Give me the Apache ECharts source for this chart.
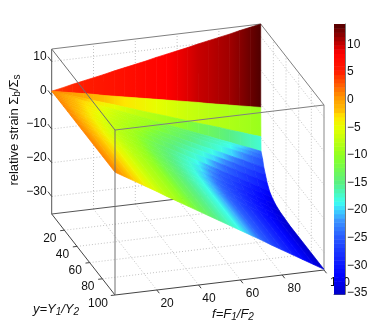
<!DOCTYPE html>
<html lang="en">
<head>
    <meta charset="UTF-8">
    <title>relative strain</title>
    <script type="text/javascript" src="https://cdn.jsdelivr.net/npm/echarts@6/dist/echarts.min.js"></script>
    <style>html,body{margin:0;padding:0;background:#fff;}</style>
</head>
<body>
    <div id="main" style="width:390px;height:332px;"></div>
    <script type="text/javascript">
        // surface: one row per y, one value per f
        var fValues = [0, 5, 10, 15, 20, 25, 30, 35, 40, 45, 50, 55, 60, 65, 70, 75, 80, 85, 90, 95, 100];
        var yValues = [0, 0.1, 0.3, 0.6, 1.5, 3, 5, 7.5, 10, 14, 18, 24, 30, 38, 46, 100];
        var zRows = [
            [1.2, 1.8, 2.5, 3.1, 3.7, 4.3, 5.0, 5.6, 6.2, 6.8, 7.5, 8.1, 8.7, 9.3, 10.0, 10.6, 11.2, 11.8, 12.5, 13.1, 13.7],
            [1.2, 0.6, 0, -0.6, -1.2, -1.9, -2.5, -3.1, -3.7, -4.3, -4.9, -5.5, -6.1, -6.7, -7.3, -8.0, -8.6, -9.2, -9.8, -10.4, -11.0],
            [1.2, 0.2, -0.9, -1.9, -3.0, -4.0, -5.0, -6.1, -7.1, -8.2, -9.2, -10.2, -11.3, -12.3, -13.4, -14.4, -15.4, -16.5, -17.5, -18.6, -19.6],
            [1.2, -0.1, -1.3, -2.6, -3.8, -5.1, -6.3, -7.6, -8.8, -10.1, -11.4, -12.6, -13.9, -15.1, -16.4, -17.6, -18.9, -20.1, -21.4, -22.6, -23.9],
            [1.2, -0.1, -1.4, -2.7, -4.0, -5.3, -6.5, -7.8, -9.1, -10.4, -11.7, -13.0, -14.3, -15.6, -16.9, -18.2, -19.4, -20.7, -22.0, -23.3, -24.6],
            [1.2, -0.1, -1.5, -2.8, -4.2, -5.5, -6.8, -8.2, -9.5, -10.9, -12.2, -13.5, -14.9, -16.2, -17.6, -18.9, -20.2, -21.6, -22.9, -24.3, -25.6],
            [1.2, -0.2, -1.7, -3.1, -4.6, -6.0, -7.4, -8.9, -10.3, -11.8, -13.2, -14.6, -16.1, -17.5, -19.0, -20.4, -21.8, -23.3, -24.7, -26.2, -27.6],
            [1.2, -0.3, -1.8, -3.4, -4.9, -6.4, -7.9, -9.4, -11.0, -12.5, -14.0, -15.5, -17.0, -18.6, -20.1, -21.6, -23.1, -24.6, -26.2, -27.7, -29.2],
            [1.2, -0.4, -2.0, -3.6, -5.2, -6.8, -8.4, -10.0, -11.6, -13.2, -14.8, -16.4, -18.0, -19.6, -21.2, -22.8, -24.4, -26.0, -27.6, -29.2, -30.8],
            [1.2, -0.5, -2.2, -3.9, -5.5, -7.2, -8.9, -10.6, -12.3, -14.0, -15.7, -17.3, -19.0, -20.7, -22.4, -24.1, -25.8, -27.4, -29.1, -30.8, -32.5],
            [1.2, -0.5, -2.3, -4.0, -5.7, -7.5, -9.2, -10.9, -12.6, -14.4, -16.1, -17.8, -19.6, -21.3, -23.0, -24.8, -26.5, -28.2, -29.9, -31.7, -33.4],
            [1.2, -0.6, -2.3, -4.1, -5.9, -7.7, -9.4, -11.2, -13.0, -14.7, -16.5, -18.3, -20.0, -21.8, -23.6, -25.4, -27.1, -28.9, -30.7, -32.4, -34.2],
            [1.2, -0.6, -2.4, -4.2, -6.0, -7.8, -9.5, -11.3, -13.1, -14.9, -16.7, -18.5, -20.3, -22.1, -23.9, -25.7, -27.4, -29.2, -31.0, -32.8, -34.6],
            [1.2, -0.6, -2.4, -4.2, -6.0, -7.8, -9.6, -11.4, -13.2, -15.0, -16.8, -18.6, -20.4, -22.2, -24.0, -25.8, -27.6, -29.4, -31.2, -33.0, -34.8],
            [1.2, -0.6, -2.4, -4.2, -6.0, -7.9, -9.7, -11.5, -13.3, -15.1, -16.9, -18.7, -20.5, -22.3, -24.1, -26.0, -27.8, -29.6, -31.4, -33.2, -35.0],
            [1.2, -0.6, -2.4, -4.2, -6.0, -7.9, -9.7, -11.5, -13.3, -15.1, -16.9, -18.7, -20.5, -22.3, -24.1, -26.0, -27.8, -29.6, -31.4, -33.2, -35.0]
        ];
        // the fold at y=0 is coloured a little redder than its height near the apex
        var foldColors = [4, 4.4, 4.8, 5.2, 5.6, 6, 6.4, 6.8, 7.2, 7.6, 8, 8.4, 8.8, 9.3, 10, 10.3, 10.7, 11.1, 11.9, 12.8, 13.7];
        var fTicks = [20, 40, 60, 80, 100];
        var yTicks = [20, 40, 60, 80, 100];
        var zTicks = [-30, -20, -10, 0, 10];
        var colorbarTicks = [-35, -30, -25, -20, -15, -10, -5, 0, 5, 10];
        // colour scale
        var mapValues = [-35.2, -32, -28.5, -24.9, -21.8, -20, -18.5, -15, -11, -9.7, -5, -3, -1.9, 0, 1.7, 4, 5, 8.4, 10, 10.8, 13.7];
        var mapColors = [
            [0, 0, 200], [0, 0, 255], [20, 40, 255], [40, 90, 255], [60, 150, 255], [60, 210, 255], [60, 255, 240],
            [90, 240, 130], [130, 255, 50], [150, 255, 30], [230, 255, 0], [255, 230, 0], [255, 190, 0], [255, 160, 0],
            [255, 120, 0], [255, 60, 0], [255, 30, 0], [255, 0, 0], [200, 0, 0], [170, 0, 0], [80, 0, 0]
        ];
        // on the surface the mid range looks lighter than its height on the colorbar
        var shiftAt = [-24, -21, -17, -13, -11, -7];
        var shiftBy = [0, 2.3, 1.5, 1, 1.5, 0];

        var zMin = -35.2, zMax = 13.7;
        var font = '"Liberation Sans", Arial, sans-serif';

        // fixed view of the box, in units of the hidden page axes
        function project(f, y, z) {
            var t = (z - zMin) / (zMax - zMin);
            return [51.7 + 2.09 * f + 0.633 * y, 214 - 0.25 * f + 0.81 * y - 165 * t];
        }

        function mapColor(z) {
            var n = 0;
            while (n < mapValues.length - 2 && z > mapValues[n + 1]) {
                n++;
            }
            var t = Math.max(0, Math.min(1, (z - mapValues[n]) / (mapValues[n + 1] - mapValues[n])));
            var a = mapColors[n], b = mapColors[n + 1];
            return 'rgb(' + Math.round(a[0] + (b[0] - a[0]) * t) + ',' + Math.round(a[1] + (b[1] - a[1]) * t) + ',' + Math.round(a[2] + (b[2] - a[2]) * t) + ')';
        }

        function surfaceColor(z) {
            var shift = 0;
            for (var n = 0; n < shiftAt.length - 1; n++) {
                if (z >= shiftAt[n] && z <= shiftAt[n + 1]) {
                    shift = shiftBy[n] + (shiftBy[n + 1] - shiftBy[n]) * (z - shiftAt[n]) / (shiftAt[n + 1] - shiftAt[n]);
                }
            }
            return mapColor(z + shift);
        }

        function segment(api, a, b, stroke, lineWidth, dash) {
            var p = api.coord(project(a[0], a[1], a[2]));
            var q = api.coord(project(b[0], b[1], b[2]));
            return {
                type: 'line',
                shape: {x1: p[0], y1: p[1], x2: q[0], y2: q[1]},
                style: {stroke: stroke, lineWidth: lineWidth, lineDash: dash || null}
            };
        }

        function label(api, f, y, z, dx, dy, text, align) {
            var p = api.coord(project(f, y, z));
            return {
                type: 'text',
                x: p[0] + dx,
                y: p[1] + dy,
                style: {text: text, fill: '#111', font: '12px ' + font, textAlign: align || 'center', textVerticalAlign: 'middle'}
            };
        }

        function minus(v) {
            return String(v).replace('-', '\u2212');
        }

        // dotted grid, back edges, ticks and tick labels, all under the surface
        function renderBack(params, api) {
            var kids = [];
            var grid = '#c4c4c4', dash = [1, 2];
            fTicks.forEach(function (f) {
                if (f < 100) {
                    kids.push(segment(api, [f, 0, zMin], [f, 100, zMin], grid, 1, dash));
                    kids.push(segment(api, [f, 0, zMin], [f, 0, zMax], grid, 1, dash));
                }
            });
            yTicks.forEach(function (y) {
                if (y < 100) {
                    kids.push(segment(api, [0, y, zMin], [100, y, zMin], grid, 1, dash));
                    kids.push(segment(api, [100, y, zMin], [100, y, zMax], grid, 1, dash));
                }
            });
            zTicks.forEach(function (z) {
                kids.push(segment(api, [0, 0, z], [100, 0, z], grid, 1, dash));
                kids.push(segment(api, [100, 0, z], [100, 100, z], grid, 1, dash));
            });
            kids.push(segment(api, [0, 0, zMin], [100, 0, zMin], '#555', 1));
            kids.push(segment(api, [0, 0, zMin], [0, 0, zMax], '#555', 1));
            kids.push(segment(api, [0, 0, zMin], [0, 100, zMin], '#444', 1));
            kids.push(segment(api, [0, 100, zMin], [100, 100, zMin], '#444', 1));
            kids.push(segment(api, [0, 0, zMax], [100, 0, zMax], '#808080', 1));
            kids.push(segment(api, [100, 0, zMax], [100, 100, zMax], '#808080', 1));
            kids.push(segment(api, [100, 100, zMin], [100, 100, zMax], '#b0b0b0', 1.5));

            zTicks.forEach(function (z) {
                kids.push(segment(api, [0, 0, z], [0, -6, z], '#444', 1));
                kids.push(label(api, 0, 0, z, -5, -5, minus(z), 'right'));
            });
            yTicks.forEach(function (y) {
                kids.push(segment(api, [0, y, zMin], [-2, y, zMin], '#444', 1));
                kids.push(label(api, 0, y, zMin, y === 100 ? -17 : -14.5, 8.3, String(y)));
            });
            fTicks.forEach(function (f) {
                kids.push(segment(api, [f, 100, zMin], [f, 104, zMin], '#444', 1));
                kids.push(label(api, f, 100, zMin, f < 50 ? 10.3 : (f === 100 ? 16 : 12), f === 100 ? 13 : 13.3, String(f)));
            });
            return {type: 'group', children: kids};
        }

        // flat colour from the first corner along y, so the fold at y=0 stays red
        function renderCell(params, api) {
            var i = api.value(0), j = api.value(1);
            var f0 = fValues[i], f1 = fValues[i + 1], y0 = yValues[j], y1 = yValues[j + 1];
            var p = [
                api.coord(project(f0, y0, zRows[j][i])),
                api.coord(project(f1, y0, zRows[j][i + 1])),
                api.coord(project(f1, y1, zRows[j + 1][i + 1])),
                api.coord(project(f0, y1, zRows[j + 1][i]))
            ];
            var c0 = j === 0 ? mapColor(foldColors[i]) : surfaceColor(zRows[j][i]);
            var c1 = j === 0 ? mapColor(foldColors[i + 1]) : surfaceColor(zRows[j][i + 1]);
            // colour stays constant along the cell's y edge
            var dx = p[3][0] - p[0][0], dy = p[3][1] - p[0][1];
            var ex = p[1][0] - p[0][0], ey = p[1][1] - p[0][1];
            var along = (ex * dx + ey * dy) / (dx * dx + dy * dy);
            var fill = {
                type: 'linear',
                global: true,
                x: p[0][0],
                y: p[0][1],
                x2: p[0][0] + ex - along * dx,
                y2: p[0][1] + ey - along * dy,
                colorStops: [
                    {offset: 0, color: c0},
                    {offset: 1, color: c1}
                ]
            };
            return {
                type: 'polygon',
                shape: {points: p},
                style: {fill: fill, stroke: fill, lineWidth: 0.7}
            };
        }

        // box edges that pass in front of the surface
        function renderFront(params, api) {
            return {
                type: 'group',
                children: [
                    segment(api, [0, 0, zMax], [0, 100, zMax], '#707070', 1),
                    segment(api, [0, 100, zMax], [100, 100, zMax], '#808080', 1),
                    segment(api, [0, 100, zMin], [0, 100, zMax], '#707070', 1)
                ]
            };
        }

        function renderColorbar(params, api) {
            var a = api.coord([0, api.value(0)]);
            var b = api.coord([1, api.value(1)]);
            return {
                type: 'rect',
                shape: {x: a[0], y: b[1], width: b[0] - a[0], height: a[1] - b[1] + 0.5},
                style: {fill: mapColor(api.value(2))}
            };
        }

        var cells = [];
        for (var j = 0; j < yValues.length - 1; j++) {
            for (var i = 0; i < fValues.length - 1; i++) {
                cells.push([i, j]);
            }
        }

        var levels = [];
        for (var k = 0; k < 64; k++) {
            var lo = zMin + (zMax - zMin) * k / 64;
            var hi = zMin + (zMax - zMin) * (k + 1) / 64;
            levels.push([lo, hi, (lo + hi) / 2]);
        }

        var myChart = echarts.init(document.getElementById('main'));

        var option = {
            animation: false,
            backgroundColor: '#fff',
            grid: [
                {left: 0, top: 0, width: 390, height: 332},
                {left: 334, top: 24, width: 11, height: 270}
            ],
            xAxis: [
                {type: 'value', gridIndex: 0, min: 0, max: 390, show: false},
                {type: 'value', gridIndex: 1, min: 0, max: 1, axisLabel: {show: false}, axisTick: {show: false},
                    splitLine: {show: false}, position: 'bottom', axisLine: {onZero: false, lineStyle: {color: '#666'}}}
            ],
            yAxis: [
                {type: 'value', gridIndex: 0, min: 0, max: 332, inverse: true, show: false},
                {
                    type: 'value',
                    gridIndex: 1,
                    position: 'right',
                    min: zMin,
                    max: zMax,
                    splitLine: {show: false},
                    axisLine: {show: true, onZero: false, lineStyle: {color: '#777'}},
                    axisTick: {show: true, inside: true, length: 3, customValues: colorbarTicks, lineStyle: {color: '#555'}},
                    axisLabel: {
                        customValues: colorbarTicks,
                        margin: 2,
                        color: '#111',
                        fontFamily: 'Liberation Sans',
                        fontSize: 12,
                        formatter: function (v) {
                            return minus(v);
                        }
                    }
                }
            ],
            graphic: [
                {
                    type: 'text',
                    x: 14,
                    y: 130,
                    rotation: Math.PI / 2,
                    style: {
                        text: '{n|relative strain \u03a3}{s|b}{n|/\u03a3}{s|s}',
                        align: 'center',
                        verticalAlign: 'middle',
                        fill: '#111',
                        rich: {
                            n: {fontFamily: 'Liberation Sans', fontSize: 13, fill: '#111'},
                            s: {fontFamily: 'Liberation Sans', fontSize: 10, fill: '#111', padding: [7, 0, 0, 0]}
                        }
                    }
                },
                {
                    type: 'text',
                    x: 56,
                    y: 309,
                    style: {
                        text: '{n|y=Y}{s|1}{n|/Y}{s|2}',
                        align: 'center',
                        verticalAlign: 'middle',
                        fill: '#111',
                        rich: {
                            n: {fontFamily: 'Liberation Sans', fontStyle: 'italic', fontSize: 13, fill: '#111'},
                            s: {fontFamily: 'Liberation Sans', fontStyle: 'italic', fontSize: 10, fill: '#111', padding: [7, 0, 0, 0]}
                        }
                    }
                },
                {
                    type: 'text',
                    x: 233,
                    y: 314,
                    style: {
                        text: '{n|f=F}{s|1}{n|/F}{s|2}',
                        align: 'center',
                        verticalAlign: 'middle',
                        fill: '#111',
                        rich: {
                            n: {fontFamily: 'Liberation Sans', fontStyle: 'italic', fontSize: 13, fill: '#111'},
                            s: {fontFamily: 'Liberation Sans', fontStyle: 'italic', fontSize: 10, fill: '#111', padding: [7, 0, 0, 0]}
                        }
                    }
                }
            ],
            series: [
                {type: 'custom', coordinateSystem: 'cartesian2d', xAxisIndex: 0, yAxisIndex: 0, z: 1, silent: true, data: [[0, 0]], renderItem: renderBack},
                {type: 'custom', coordinateSystem: 'cartesian2d', xAxisIndex: 0, yAxisIndex: 0, z: 2, silent: true, data: cells, renderItem: renderCell,
                    encode: {x: 0, y: 1}},
                {type: 'custom', coordinateSystem: 'cartesian2d', xAxisIndex: 0, yAxisIndex: 0, z: 3, silent: true, data: [[0, 0]], renderItem: renderFront},
                {type: 'custom', coordinateSystem: 'cartesian2d', xAxisIndex: 1, yAxisIndex: 1, z: 10, silent: true, data: levels, renderItem: renderColorbar,
                    encode: {y: [0, 1]}}
            ]
        };

        myChart.setOption(option);
    </script>
</body>
</html>
